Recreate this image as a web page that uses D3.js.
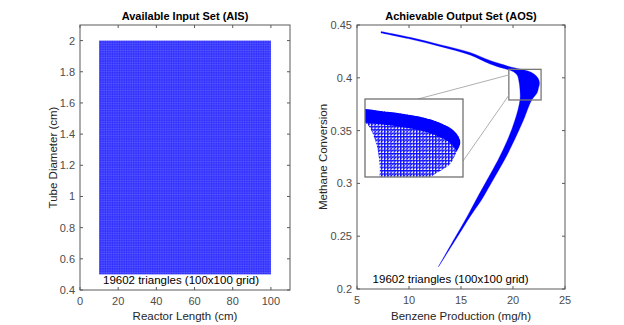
<!DOCTYPE html>
<html><head><meta charset="utf-8">
<script src="https://cdn.jsdelivr.net/npm/d3@7"></script>
<style>
html,body{margin:0;padding:0;background:#fff;}
text{font-family:"Liberation Sans",Arial,Helvetica,sans-serif;}
</style></head>
<body><svg id="c" width="624" height="325"></svg>
<script>
// ---------- data ----------
const aisLengthRange = [10, 100];        // reactor length (cm)
const aisDiameterRange = [0.5, 2.0];     // tube diameter (cm)
const gridSize = 100;
const triangleCount = 19602;
const leftXTicks = [0, 20, 40, 60, 80, 100];
const leftYTicks = [0.4, 0.6, 0.8, 1, 1.2, 1.4, 1.6, 1.8, 2];
const rightXTicks = [5, 10, 15, 20, 25];
const rightYTicks = [0.2, 0.25, 0.3, 0.35, 0.4, 0.45];
// AOS boundary (benzene mg/h, methane conversion): outer edge, top tip -> bottom tip
const aosOuterEdge = [
  [7.31,0.4438],[10.10,0.4383],[12.98,0.4314],[15.87,0.4240],[17.79,0.4164],
  [19.04,0.4125],[19.62,0.4107],[20.67,0.4083],[21.44,0.4064],[22.02,0.4036],
  [22.40,0.3998],[22.55,0.3951],[22.45,0.3903],[22.31,0.3856],[21.80,0.3790],
  [21.01,0.3600],[20.14,0.3411],[19.18,0.3222],[18.08,0.3032],[16.97,0.2843],
  [15.87,0.2685],[14.66,0.2495],[12.84,0.2211]
];
// inner edge, top tip -> bottom tip
const aosInnerEdge = [
  [7.31,0.4424],[10.10,0.4367],[12.98,0.4297],[15.87,0.4216],[17.79,0.4131],
  [19.04,0.4090],[19.90,0.4064],[20.39,0.4027],[20.58,0.3960],[20.67,0.3884],
  [20.67,0.3790],[20.19,0.3600],[19.47,0.3411],[18.56,0.3222],[17.50,0.3032],
  [16.44,0.2843],[15.58,0.2685],[14.47,0.2495],[12.82,0.2211]
];
const zoomBoxX = [19.6, 22.7];
const zoomBoxY = [0.379, 0.408];
const insetDomainX = [20.35, 22.61];
const insetDomainY = [0.3801, 0.4133];

// ---------- layout ----------
const svg = d3.select("#c");
const axisColor = "#5a5a5a";
const L = {x0:80, x1:290, y0:25, y1:290};
const R = {x0:357, x1:565, y0:25, y1:289};
const inset = {x0:365, x1:463, y0:99, y1:177};

const xL = d3.scaleLinear().domain([0,110]).range([L.x0,L.x1]);
const yL = d3.scaleLinear().domain([0.4,2.1]).range([L.y1,L.y0]);
const xR = d3.scaleLinear().domain([5,25]).range([R.x0,R.x1]);
const yR = d3.scaleLinear().domain([0.2,0.45]).range([R.y1,R.y0]);

const defs = svg.append("defs");
// AIS mesh texture
const pAis = defs.append("pattern").attr("id","aisMesh").attr("patternUnits","userSpaceOnUse")
  .attr("width",(xL(100)-xL(10))/(gridSize-1)).attr("height",(yL(0.5)-yL(2))/(gridSize-1))
  .attr("x",xL(10)).attr("y",yL(2));
pAis.append("rect").attr("width",10).attr("height",10).attr("fill","#2c2cff");
pAis.append("path").attr("d","M0,0H10M0,0V10").attr("stroke","#7272ff").attr("stroke-width",0.6);

// inset mesh texture
const pIn = defs.append("pattern").attr("id","aosMesh").attr("patternUnits","userSpaceOnUse")
  .attr("width",3.2).attr("height",3.4);
pIn.append("rect").attr("width",3.2).attr("height",3.4).attr("fill","#fff");
pIn.append("path").attr("d","M0,0.5H3.2M0,3.4L3.2,0M0.3,0L0.3,3.4").attr("stroke","#0a0aff").attr("stroke-width",1);

function axesFrame(g, xs, ys, xt, yt, box, xfmt, yfmt){
  g.append("rect").attr("x",box.x0).attr("y",box.y0).attr("width",box.x1-box.x0).attr("height",box.y1-box.y0)
    .attr("fill","none").attr("stroke",axisColor).attr("stroke-width",1);
  const tl = 3;
  xt.forEach(v=>{
    const x = xs(v);
    g.append("line").attr("x1",x).attr("x2",x).attr("y1",box.y1).attr("y2",box.y1-tl).attr("stroke",axisColor);
    g.append("line").attr("x1",x).attr("x2",x).attr("y1",box.y0).attr("y2",box.y0+tl).attr("stroke",axisColor);
    g.append("text").attr("x",x).attr("y",box.y1+15).attr("text-anchor","middle")
      .attr("font-size",11).attr("fill","#4d4d4d").text(xfmt(v));
  });
  yt.forEach(v=>{
    const y = ys(v);
    g.append("line").attr("x1",box.x0).attr("x2",box.x0+tl).attr("y1",y).attr("y2",y).attr("stroke",axisColor);
    g.append("line").attr("x1",box.x1).attr("x2",box.x1-tl).attr("y1",y).attr("y2",y).attr("stroke",axisColor);
    g.append("text").attr("x",box.x0-5).attr("y",y+4).attr("text-anchor","end")
      .attr("font-size",11).attr("fill","#4d4d4d").text(yfmt(v));
  });
}
const fmt = v => String(+v.toFixed(2));

// ---------- left: AIS ----------
const gl = svg.append("g");
gl.append("rect").attr("x",xL(aisLengthRange[0])).attr("y",yL(aisDiameterRange[1]))
  .attr("width",xL(aisLengthRange[1])-xL(aisLengthRange[0]))
  .attr("height",yL(aisDiameterRange[0])-yL(aisDiameterRange[1]))
  .attr("fill","url(#aisMesh)");
axesFrame(gl, xL, yL, leftXTicks, leftYTicks, L, fmt, fmt);
gl.append("text").attr("x",(L.x0+L.x1)/2).attr("y",20).attr("text-anchor","middle")
  .attr("font-size",11).attr("font-weight","bold").attr("fill","#000").text("Available Input Set (AIS)");
gl.append("text").attr("x",(L.x0+L.x1)/2).attr("y",320).attr("text-anchor","middle")
  .attr("font-size",11.5).attr("fill","#262626").text("Reactor Length (cm)");
gl.append("text").attr("transform",`translate(57,${(L.y0+L.y1)/2}) rotate(-90)`).attr("text-anchor","middle")
  .attr("font-size",11.5).attr("fill","#262626").text("Tube Diameter (cm)");
gl.append("text").attr("x",xL(52.9)).attr("y",284).attr("text-anchor","middle")
  .attr("font-size",11.5).attr("fill","#000").text(`${triangleCount} triangles (${gridSize}x${gridSize} grid)`);

// ---------- right: AOS ----------
const gr = svg.append("g");
function shapePath(xs, ys){
  const ln = d3.line().x(d=>xs(d[0])).y(d=>ys(d[1])).curve(d3.curveCatmullRom.alpha(0.5));
  const a = ln(aosOuterEdge);
  const b = ln(aosInnerEdge.slice().reverse()).replace(/^M/,"L");
  return a + b + "Z";
}
gr.append("path").attr("d",shapePath(xR,yR)).attr("fill","#0000ff").attr("stroke","#0000ff").attr("stroke-width",0.3);
axesFrame(gr, xR, yR, rightXTicks, rightYTicks, R, fmt, fmt);

// zoom box
gr.append("rect").attr("x",xR(zoomBoxX[0])).attr("y",yR(zoomBoxY[1]))
  .attr("width",xR(zoomBoxX[1])-xR(zoomBoxX[0])).attr("height",yR(zoomBoxY[0])-yR(zoomBoxY[1]))
  .attr("fill","none").attr("stroke","#777").attr("stroke-width",1.3);
// connectors
gr.append("line").attr("x1",xR(zoomBoxX[0])).attr("y1",yR(0.4027)).attr("x2",418).attr("y2",inset.y0)
  .attr("stroke","#b0b0b0").attr("stroke-width",1);
gr.append("line").attr("x1",xR(zoomBoxX[0])).attr("y1",yR(0.3835)).attr("x2",inset.x1).attr("y2",161)
  .attr("stroke","#b0b0b0").attr("stroke-width",1);

// inset
const xI = d3.scaleLinear().domain(insetDomainX).range([inset.x0,inset.x1]);
const yI = d3.scaleLinear().domain(insetDomainY).range([inset.y1,inset.y0]);
const insetD = shapePath(xI,yI);
defs.append("clipPath").attr("id","insetClip").append("rect")
  .attr("x",inset.x0).attr("y",inset.y0).attr("width",inset.x1-inset.x0).attr("height",inset.y1-inset.y0);
const mask = defs.append("mask").attr("id","bandMask");
mask.append("path").attr("d",insetD).attr("fill","#fff");
mask.append("path").attr("d",insetD).attr("fill","#000").attr("transform","translate(-3,13)");
const gi = gr.append("g").attr("clip-path","url(#insetClip)");
gi.append("rect").attr("x",inset.x0).attr("y",inset.y0).attr("width",inset.x1-inset.x0).attr("height",inset.y1-inset.y0).attr("fill","#fff");
gi.append("path").attr("d",insetD).attr("fill","url(#aosMesh)");
gi.append("path").attr("d",insetD).attr("fill","#0000ff").attr("mask","url(#bandMask)");
gr.append("rect").attr("x",inset.x0).attr("y",inset.y0).attr("width",inset.x1-inset.x0).attr("height",inset.y1-inset.y0)
  .attr("fill","none").attr("stroke","#707070").attr("stroke-width",1.3);

gr.append("text").attr("x",(R.x0+R.x1)/2).attr("y",20).attr("text-anchor","middle")
  .attr("font-size",11).attr("font-weight","bold").attr("fill","#000").text("Achievable Output Set (AOS)");
gr.append("text").attr("x",(R.x0+R.x1)/2).attr("y",320).attr("text-anchor","middle")
  .attr("font-size",11.5).attr("fill","#262626").text("Benzene Production (mg/h)");
gr.append("text").attr("transform",`translate(327,${(R.y0+R.y1)/2}) rotate(-90)`).attr("text-anchor","middle")
  .attr("font-size",11.5).attr("fill","#262626").text("Methane Conversion");
gr.append("text").attr("x",xR(14.0)).attr("y",283).attr("text-anchor","middle")
  .attr("font-size",11.5).attr("fill","#000").text(`${triangleCount} triangles (${gridSize}x${gridSize} grid)`);
</script></body></html>
